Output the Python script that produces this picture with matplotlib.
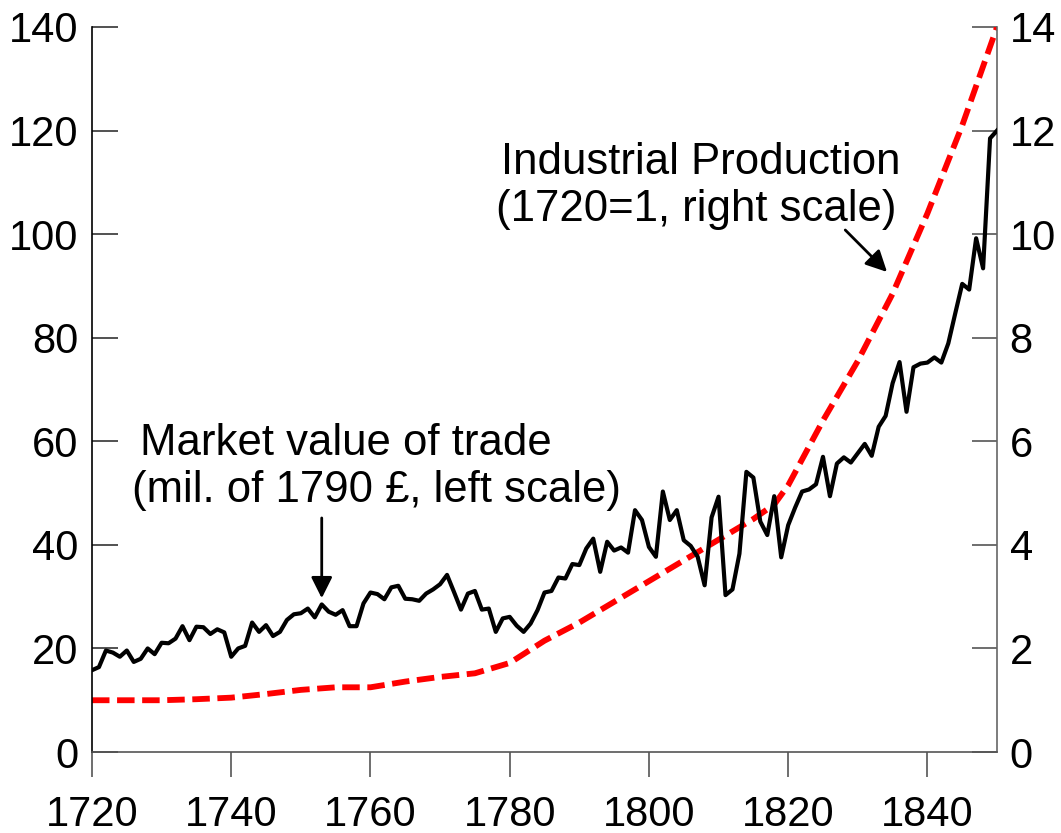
import numpy as np
import matplotlib
matplotlib.use("Agg")
import matplotlib.pyplot as plt

plt.rcParams['font.family'] = ['Liberation Sans', 'DejaVu Sans']

# market value of trade, mil. of 1790 pounds (left scale), one value per year
trade_years = np.arange(1720, 1851)
trade_values = [
    15.8, 16.4, 19.6, 19.2, 18.4, 19.6, 17.4, 18.0, 20.0, 18.9,   # 1720s
    21.1, 21.0, 21.9, 24.3, 21.6, 24.2, 24.1, 22.8, 23.7, 23.1,   # 1730s
    18.4, 20.0, 20.5, 25.0, 23.2, 24.5, 22.4, 23.2, 25.5, 26.6,   # 1740s
    26.8, 27.7, 26.0, 28.5, 27.1, 26.5, 27.4, 24.3, 24.3, 28.7,   # 1750s
    30.8, 30.5, 29.5, 31.8, 32.1, 29.6, 29.5, 29.2, 30.6, 31.4,   # 1760s
    32.4, 34.2, 30.9, 27.5, 30.6, 31.1, 27.5, 27.7, 23.2, 25.8,   # 1770s
    26.1, 24.4, 23.2, 24.8, 27.4, 30.8, 31.1, 33.7, 33.5, 36.3,   # 1780s
    36.1, 39.3, 41.2, 34.8, 40.6, 38.9, 39.5, 38.5, 46.7, 44.8,   # 1790s
    39.6, 37.7, 50.3, 44.8, 46.7, 40.9, 39.8, 37.7, 32.2, 45.3,   # 1800s
    49.3, 30.3, 31.4, 38.3, 54.1, 53.0, 44.5, 41.9, 49.4, 37.6,   # 1810s
    43.8, 47.2, 50.3, 50.7, 51.7, 57.0, 49.4, 55.7, 56.9, 55.9,   # 1820s
    57.7, 59.5, 57.2, 62.8, 64.9, 71.2, 75.3, 65.7, 74.3, 75.0,   # 1830s
    75.2, 76.2, 75.2, 78.9, 84.7, 90.4, 89.3, 99.2, 93.4, 118.5,  # 1840s
    120.0,
]

# industrial production index, 1720=1 (right scale)
ip_years = [1720, 1725, 1730, 1735, 1740, 1745, 1750, 1755, 1760, 1765,
            1770, 1775, 1780, 1785, 1790, 1795, 1800, 1805, 1810, 1815,
            1818, 1820, 1825, 1830, 1835, 1840, 1845, 1850]
ip_values = [1.0, 1.0, 1.0, 1.02, 1.05, 1.12, 1.2, 1.25, 1.25, 1.36,
             1.45, 1.52, 1.72, 2.15, 2.5, 2.9, 3.3, 3.7, 4.1, 4.5,
             4.78, 5.15, 6.4, 7.55, 8.85, 10.4, 12.1, 14.0]

left_ticks = [0, 20, 40, 60, 80, 100, 120, 140]
right_ticks = [0, 2, 4, 6, 8, 10, 12, 14]
x_ticks = [1720, 1740, 1760, 1780, 1800, 1820, 1840]

fig = plt.figure(figsize=(10.61, 8.33), dpi=100)
ax = fig.add_axes([0.0867, 0.0972, 0.853, 0.8704])
ax2 = ax.twinx()

ax2.plot(ip_years, ip_values, color='#ff0000', lw=4.2, dashes=(3.0, 1.3),
         dash_capstyle='butt')
ax.plot(trade_years, trade_values, color='black', lw=3.0)

# black series drawn above the red one
ax.set_zorder(ax2.get_zorder() + 1)
ax.patch.set_visible(False)

ax.set_xlim(1720, 1850)
ax.set_ylim(0, 140)
ax2.set_ylim(0, 14)
ax.set_xticks(x_ticks)
ax.set_yticks(left_ticks)
ax2.set_yticks(right_ticks)

for a in (ax, ax2):
    a.spines['top'].set_visible(False)
ax.spines['right'].set_visible(False)
ax2.spines['left'].set_visible(False)
ax2.spines['bottom'].set_visible(False)
ax.spines['left'].set_color('black')
ax.spines['bottom'].set_color('#555555')
ax2.spines['right'].set_color('#666666')
for s in ('left', 'bottom'):
    ax.spines[s].set_linewidth(1.2)
ax2.spines['right'].set_linewidth(1.2)

ax.tick_params(axis='y', direction='in', length=19, width=1.2, color='#333333',
               labelsize=30, pad=10)
ax.tick_params(axis='x', direction='out', length=18, width=1.2, color='#555555',
               labelsize=30, pad=13)
ax2.tick_params(axis='y', direction='in', length=18, width=1.2, color='#555555',
                labelsize=30, pad=9)

# annotations
ax.text(1726.9, 57.3, "Market value of trade", fontsize=31.5,
        ha='left', va='baseline')
ax.text(1725.8, 48.3, "(mil. of 1790 £, left scale)", fontsize=31.5,
        ha='left', va='baseline')
ax.annotate("", xy=(1753, 29.7), xytext=(1753, 45.2),
            arrowprops=dict(arrowstyle='-|>', color='black', lw=2,
                            mutation_scale=32, shrinkA=0, shrinkB=0))

ax.text(1807.4, 111.6, "Industrial Production", fontsize=31.5,
        ha='center', va='baseline')
ax.text(1806.8, 102.6, "(1720=1, right scale)", fontsize=31.5,
        ha='center', va='baseline')
ax.annotate("", xy=(1834.2, 92.7), xytext=(1828.2, 100.8),
            arrowprops=dict(arrowstyle='-|>', color='black', lw=2,
                            mutation_scale=32, shrinkA=0, shrinkB=0))

fig.savefig("out.png", dpi=100)
